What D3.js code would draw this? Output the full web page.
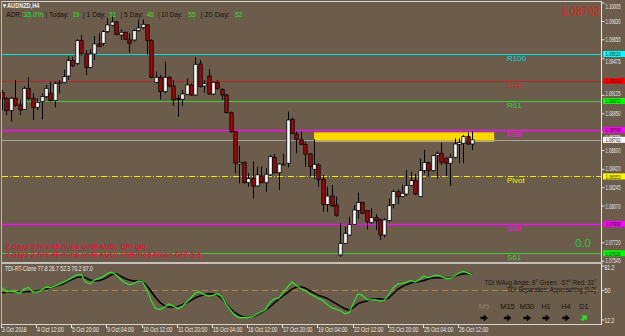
<!DOCTYPE html>
<html>
<head>
<meta charset="utf-8">
<script src="https://cdn.jsdelivr.net/npm/d3@7"></script>
<style>
  body { margin: 0; background: #6b5c4c; }
  svg { display: block; font-family: "Liberation Sans", Arial, sans-serif; }
</style>
</head>
<body>
<svg id="chart" width="625" height="336"></svg>
<script>
// ---- DATA (AUDNZD H4) ----
var openP = [1.09152,1.09098,1.08980,1.09098,1.09034,1.08993,1.09193,1.09098,1.09012,1.09066,
  1.09113,1.09145,1.09075,1.09247,1.09247,1.09310,1.09457,1.09431,1.09647,1.09520,
  1.09393,1.09520,1.09616,1.09622,1.09733,1.09794,1.09825,1.09701,1.09727,1.09654,
  1.09654,1.09743,1.09771,1.09797,1.09647,1.09250,1.09298,1.09161,1.09298,1.09215,
  1.09098,1.09088,1.09136,1.09225,1.09129,1.09425,1.09215,1.09310,1.09139,1.09247,
  1.09183,1.09129,1.08961,1.08780,1.08471,1.08487,1.08293,1.08333,1.08262,1.08357,
  1.08293,1.08368,1.08535,1.08388,1.08468,1.08479,1.08897,1.08757,1.08702,1.08659,
  1.08567,1.08421,1.08462,1.08325,1.08086,1.08166,1.08080,1.07604,1.07715,1.07794,
  1.07896,1.08027,1.08106,1.08027,1.07912,1.07960,1.07938,1.07794,1.07931,1.08086,
  1.08208,1.08160,1.08185,1.08268,1.08313,1.08160,1.08408,1.08484,1.08408,1.08551,
  1.08573,1.08525,1.08479,1.08535,1.08656,1.08669,1.08732,1.08662];
var highP = [1.09177,1.09107,1.09113,1.09272,1.09082,1.09209,1.09298,1.09145,1.09098,1.09145,
  1.09225,1.09256,1.09256,1.09272,1.09368,1.09495,1.09488,1.09660,1.09701,1.09558,
  1.09565,1.09692,1.09717,1.09749,1.09860,1.09876,1.09838,1.09755,1.09733,1.09717,
  1.09755,1.09844,1.09851,1.09806,1.09660,1.09352,1.09320,1.09447,1.09310,1.09272,
  1.09129,1.09177,1.09288,1.09240,1.09488,1.09463,1.09272,1.09374,1.09256,1.09272,
  1.09193,1.09136,1.08970,1.08789,1.08643,1.08494,1.08382,1.08494,1.08446,1.08446,
  1.08430,1.08557,1.08567,1.08479,1.08567,1.08970,1.08916,1.08780,1.08780,1.08684,
  1.08573,1.08707,1.08479,1.08368,1.08255,1.08271,1.08160,1.07906,1.07874,1.07969,
  1.08080,1.08198,1.08112,1.08033,1.08049,1.07992,1.07953,1.07953,1.08144,1.08224,
  1.08230,1.08271,1.08414,1.08398,1.08376,1.08525,1.08605,1.08494,1.08557,1.08589,
  1.08675,1.08541,1.08567,1.08716,1.08716,1.08748,1.08770,1.08780];
var lowP = [1.08986,1.08939,1.08875,1.09018,1.08939,1.08986,1.09082,1.08891,1.08986,1.08897,
  1.09098,1.09066,1.09012,1.09145,1.09240,1.09272,1.09399,1.09415,1.09501,1.09320,
  1.09383,1.09463,1.09590,1.09596,1.09717,1.09781,1.09701,1.09654,1.09654,1.09533,
  1.09638,1.09733,1.09755,1.09511,1.09288,1.09240,1.09088,1.09145,1.09202,1.09024,
  1.08923,1.09024,1.09129,1.09120,1.09120,1.09202,1.09152,1.09129,1.09129,1.09177,
  1.09082,1.08955,1.08770,1.08382,1.08287,1.08287,1.08255,1.08145,1.08255,1.08287,
  1.08208,1.08357,1.08382,1.08224,1.08462,1.08440,1.08757,1.08573,1.08653,1.08446,
  1.08351,1.08328,1.08255,1.08017,1.08017,1.08065,1.07969,1.07588,1.07706,1.07788,
  1.07890,1.07953,1.07995,1.07848,1.07899,1.07842,1.07747,1.07772,1.07922,1.08049,
  1.08086,1.08154,1.08166,1.08262,1.08176,1.08154,1.08382,1.08351,1.08398,1.08333,
  1.08462,1.08351,1.08262,1.08525,1.08479,1.08479,1.08653,1.08605];
var closeP = [1.09094,1.08980,1.09098,1.09031,1.08986,1.09193,1.09098,1.09008,1.09059,1.09113,
  1.09193,1.09075,1.09240,1.09250,1.09304,1.09457,1.09406,1.09647,1.09520,1.09393,
  1.09520,1.09616,1.09590,1.09733,1.09797,1.09825,1.09704,1.09727,1.09660,1.09622,
  1.09743,1.09768,1.09803,1.09647,1.09298,1.09298,1.09161,1.09298,1.09215,1.09082,
  1.09088,1.09139,1.09225,1.09129,1.09422,1.09209,1.09240,1.09139,1.09250,1.09193,
  1.09129,1.08961,1.08780,1.08479,1.08487,1.08293,1.08333,1.08262,1.08368,1.08293,
  1.08374,1.08541,1.08388,1.08471,1.08471,1.08891,1.08764,1.08702,1.08659,1.08564,
  1.08446,1.08468,1.08325,1.08086,1.08166,1.08071,1.07982,1.07715,1.07810,1.07896,
  1.08033,1.08103,1.08001,1.07922,1.07960,1.07931,1.07794,1.07938,1.08074,1.08208,
  1.08160,1.08192,1.08265,1.08313,1.08185,1.08408,1.08484,1.08408,1.08551,1.08573,
  1.08487,1.08479,1.08535,1.08662,1.08675,1.08732,1.08662,1.08702];

// TDI: green = RSI price line, black = trade signal line
var tdiGreen = [53.4,48.3,49.2,48.3,46.2,51.7,53.8,47.9,47.9,50.4,
  54.3,53.4,55.5,58.1,60.7,63.2,66.6,69.6,70.4,60.7,
  58.5,63.2,65.3,67.5,71.7,73.4,69.6,64.1,59.8,57.2,
  58.9,61.9,61.1,50.4,36.4,26.6,25.7,28.7,32.6,30.0,
  26.6,29.6,35.1,40.6,47.0,48.3,44.5,42.8,43.6,45.8,
  41.9,32.1,24.9,18.1,15.1,15.1,15.1,16.4,19.8,22.8,
  25.7,35.1,39.4,40.2,47.9,54.7,60.7,56.4,52.1,49.6,
  45.8,42.8,39.4,37.2,32.1,27.9,26.2,24.0,20.2,21.5,
  34.3,45.8,43.6,38.1,37.7,38.1,36.4,37.7,44.5,53.4,
  58.1,58.9,60.2,62.8,60.7,64.1,68.3,66.2,68.7,69.6,
  67.5,64.9,65.3,68.7,72.6,74.7,72.1,70.2];
var tdiBlack = [47.0,47.5,48.3,48.3,47.9,48.3,48.7,48.7,49.6,50.4,
  51.7,53.4,55.1,56.8,58.5,61.5,64.1,66.6,67.5,66.2,
  63.2,62.4,62.4,64.1,67.0,70.4,71.3,68.3,65.3,63.2,
  61.9,61.9,61.1,55.5,48.3,40.6,34.3,30.0,28.7,28.7,
  29.6,31.7,34.3,37.2,40.6,42.8,44.5,45.8,45.3,44.0,
  39.8,33.0,26.6,21.5,18.1,16.0,15.1,16.4,18.5,21.5,
  24.9,29.2,34.3,38.9,43.2,47.5,51.7,54.3,54.7,53.0,
  49.6,46.6,43.6,41.9,39.8,36.4,33.0,30.0,26.6,24.9,
  28.3,33.0,35.1,36.4,38.5,39.4,38.9,38.5,40.6,45.8,
  51.3,54.7,57.2,59.4,60.7,61.5,62.8,64.5,65.8,66.2,
  66.2,65.3,66.2,67.9,70.0,71.3,71.7,70.9];
var tdiTicks = [81.2, 50, 12.2];

// fibonacci pivot levels
var levelNames = ["R100", "R76", "R61", "R38", "Pivot", "S38", "S61"];
var levelValues = [1.09520, 1.09263, 1.09072, 1.08796, 1.08353, 1.07900, 1.07620];

// supply zone (bar from / to, price top / bottom)
var zoneBars = [71, 112];
var zonePrices = [1.08773, 1.08684];

var priceTicks = [1.10005, 1.09830, 1.09655, 1.09475, 1.09125, 1.08950, 1.08775,
  1.08600, 1.08420, 1.08245, 1.08070, 1.07720, 1.07545];

var timeLabels = ["3 Oct 2018", "4 Oct 12:00", "5 Oct 20:00", "9 Oct 04:00", "10 Oct 12:00",
  "11 Oct 20:00", "15 Oct 04:00", "16 Oct 12:00", "17 Oct 20:00", "19 Oct 04:00",
  "22 Oct 12:00", "23 Oct 20:00", "25 Oct 04:00", "26 Oct 12:00"];
var timeLabelBars = [0, 8, 16, 24, 32, 40, 48, 56, 64, 72, 80, 88, 96, 104];

var adrNames = ["ADR:", "| Today:", "| 1 Day:", "| 5 Day:", "| 10 Day:", "|   20 Day:"];
var adrValues = ["35.0%", "19", "51", "48", "55", "52"];

var newsLines = ["2 days 2 hrs 40 mins until AUD: CPI q/q",
  "2 days 2 hrs 40 mins until AUD: Trimmed Mean CPI q/q"];

var tfNames = ["M5", "M15", "M30", "H1", "H4", "D1"];
var tfUp = [false, false, false, false, false, true];

var lastPrice = closeP[closeP.length - 1];

// ---- LAYOUT ----
var axisX = 601.5;
var bg = "#6b5c4c";
var levelColors = ["#00dede", "#d42a2a", "#3ccc3c", "#f010f0", "#f0f000", "#f010f0", "#3ccc3c"];
var boxColors = ["#00ffff", "#ff0000", "#00ff00", "#ff00ff", "#ffff00", "#ff00ff", "#00ff00"];

var xScale = d3.scaleLinear().domain([0, 136]).range([2, 2 + 136 * 4.395]);
var yScale = d3.scaleLinear().domain([1.0762, 1.0952]).range([253.3, 54]);
var tdiScale = d3.scaleLinear().domain([12.2, 81.2]).range([320, 266]);

var svg = d3.select("#chart");

// text squeezed to a given width with a horizontal scale
function fitText(g, x, y, txt, size, col, width, opts) {
  var t = g.append("text")
    .attr("font-size", size)
    .attr("fill", col)
    .attr("font-weight", opts && opts.bold ? "bold" : null)
    .text(txt);
  var natural = t.node().getComputedTextLength();
  var k = width / natural;
  t.attr("transform", "translate(" + x + "," + y + ") scale(" + k + ",1)");
  return t;
}

svg.append("rect").attr("width", 625).attr("height", 336).attr("fill", bg);

var bars = d3.range(openP.length);

// supply zone (behind candles)
svg.append("rect")
  .attr("x", xScale(zoneBars[0]))
  .attr("y", yScale(zonePrices[0]))
  .attr("width", xScale(zoneBars[1]) - xScale(zoneBars[0]))
  .attr("height", yScale(zonePrices[1]) - yScale(zonePrices[0]))
  .attr("fill", "#ffd800");

// level lines
levelValues.forEach(function (v, i) {
  var y = Math.round(yScale(v)) + 0.5;
  svg.append("line")
    .attr("x1", 2).attr("x2", axisX).attr("y1", y).attr("y2", y)
    .attr("stroke", levelNames[i] == "R76" ? "#b02a2a" : levelColors[i])
    .attr("stroke-width", levelNames[i] == "R38" || levelNames[i] == "S38" ? 1.4 : 1)
    .attr("stroke-dasharray", levelNames[i] == "Pivot" ? "6,2,1,2" : null);
});

// current price line
var yLast = Math.round(yScale(lastPrice)) + 0.5;
svg.append("line")
  .attr("x1", 2).attr("x2", axisX).attr("y1", yLast).attr("y2", yLast)
  .attr("stroke", "#a8a49e").attr("stroke-width", 1);

// candles
var candles = svg.append("g");
candles.selectAll("line")
  .data(bars).enter().append("line")
  .attr("x1", (i) => Math.round(xScale(i)) + 0.5)
  .attr("x2", (i) => Math.round(xScale(i)) + 0.5)
  .attr("y1", (i) => yScale(highP[i]))
  .attr("y2", (i) => yScale(lowP[i]))
  .attr("stroke", "#000").attr("stroke-width", 1);

candles.selectAll("rect")
  .data(bars).enter().append("rect")
  .attr("x", (i) => Math.round(xScale(i)) - 1.2)
  .attr("width", 3.4)
  .attr("y", (i) => yScale(Math.max(openP[i], closeP[i])))
  .attr("height", (i) => Math.max(1, Math.abs(yScale(openP[i]) - yScale(closeP[i]))))
  .attr("fill", (i) => closeP[i] >= openP[i] ? "#ffffff" : "#9c0a0a")
  .attr("stroke", "#000").attr("stroke-width", 0.8);

// level labels
levelNames.forEach(function (n, i) {
  svg.append("text")
    .attr("x", 507).attr("y", yScale(levelValues[i]) + 7)
    .attr("font-size", 8)
    .attr("fill", levelColors[i])
    .text(n);
});

// top-left texts
fitText(svg, 3, 8, "\u25BE AUDNZD,H4", 6.5, "#f0f0f0", 37, { bold: true });

var adrNameX = [6, 45.5, 83, 120.5, 158, 200.5];
var adrNameW = [16, 23.5, 23, 23, 24.5, 29.5];
var adrValX = [23.3, 72.7, 109.3, 146.7, 188.3, 235];
var adrValW = [20, 6.6, 6.7, 7.3, 7.4, 7.3];
adrNames.forEach(function (n, i) {
  fitText(svg, adrNameX[i], 17, n, 8, "#141414", adrNameW[i]);
  fitText(svg, adrValX[i], 17, adrValues[i], 8, "#22e622", adrValW[i]);
});

// big last price (top right)
fitText(svg, 561, 14.5, lastPrice.toFixed(5), 11, "#f01414", 39);

// news
var newsW = [141, 196];
newsLines.forEach(function (t, i) {
  fitText(svg, 5.5, 248.5 + i * 8.6, t, 8, "#e0143c", newsW[i], { bold: true });
});

svg.append("text").attr("x", 575).attr("y", 247).attr("font-size", 11.5)
  .attr("fill", "#30c830").text("0.0");

// frame
svg.append("line").attr("x1", 1).attr("x2", axisX).attr("y1", 1.5).attr("y2", 1.5)
  .attr("stroke", "#d8d4cc");
svg.append("line").attr("x1", 1.5).attr("x2", 1.5).attr("y1", 1).attr("y2", 325)
  .attr("stroke", "#bdb7ad");
svg.append("line").attr("x1", axisX).attr("x2", axisX).attr("y1", 1).attr("y2", 325)
  .attr("stroke", "#ece8e2");

// price scale: plain ticks are pushed clear of the coloured level boxes
var boxVals = levelValues.concat([lastPrice]);
var boxCols = boxColors.concat(["#ffffff"]);
var boxH = 6;
var pAxis = svg.append("g");
priceTicks.forEach(function (v) {
  var y = yScale(v);
  pAxis.append("line").attr("x1", axisX).attr("x2", axisX + 3).attr("y1", y).attr("y2", y)
    .attr("stroke", "#e8e4de");
  var ly = Math.min(Math.max(y, 6), 258);
  var above = boxVals.map(yScale).filter((b) => b <= ly && ly - b < 7.5);
  var below = boxVals.map(yScale).filter((b) => b > ly && b - ly < 7.5);
  var size = 7;
  if (above.length && below.length) {
    // squeezed between two boxes
    ly = (d3.max(above) + d3.min(below)) / 2 - 0.6;
    size = 4.8;
  } else if (above.length) {
    ly = d3.max(above) + 7.5;
  } else if (below.length) {
    ly = d3.min(below) - 7.5;
  }
  fitText(pAxis, 605.5, ly + size * 0.36, v.toFixed(5), size, "#eeeae4", 15);
});

boxVals.forEach(function (v, i) {
  var y = yScale(v);
  pAxis.append("rect").attr("x", 603).attr("y", y - boxH / 2).attr("width", 22).attr("height", boxH)
    .attr("fill", boxCols[i]);
  fitText(pAxis, 605.5, y + 2.2, v.toFixed(5), 6.2, "#1a1a1a", 15);
});

// ---- INDICATOR PANEL ----
svg.append("rect").attr("x", 1).attr("y", 262).attr("width", axisX).attr("height", 2)
  .attr("fill", "#c4bfb7");
svg.append("line").attr("x1", 1).attr("x2", axisX).attr("y1", 324.5).attr("y2", 324.5)
  .attr("stroke", "#d8d4cc");

svg.append("line")
  .attr("x1", 2).attr("x2", axisX)
  .attr("y1", tdiScale(50)).attr("y2", tdiScale(50))
  .attr("stroke", "#b88a3c").attr("stroke-dasharray", "6,4");

var tdiLine = (arr) => d3.line()
  .x((i) => xScale(i))
  .y((i) => tdiScale(arr[i]))(bars);

svg.append("path").attr("d", tdiLine(tdiBlack))
  .attr("fill", "none").attr("stroke", "#000").attr("stroke-width", 1.5);
svg.append("path").attr("d", tdiLine(tdiGreen))
  .attr("fill", "none").attr("stroke", "#2ee02e").attr("stroke-width", 1.3);

fitText(svg, 5, 271, "TDI-RT-Clone 77.8 26.7 52.3 70.2 67.0", 6.5, "#f0ece6", 88);

var tdiLabelW = [10, 6, 10];
tdiTicks.forEach(function (v, i) {
  svg.append("line").attr("x1", axisX).attr("x2", axisX + 3)
    .attr("y1", tdiScale(v)).attr("y2", tdiScale(v)).attr("stroke", "#e8e4de");
  var ly = Math.max(tdiScale(v), 267.5);
  fitText(svg, 604.5, ly + 2.5, String(v), 7, "#eeeae4", tdiLabelW[i]);
});

fitText(svg, 484.5, 284.5, "TDI WAvg Angle: 8\u00B0  Green: -57\u00B0  Red: 33\u00B0", 7, "#161616", 112);
fitText(svg, 507, 292.3, "TDI Separation: Approaching [0.2]", 7, "#161616", 89);

// timeframe arrows
var tfX = [484, 507.5, 527, 546, 565.8, 584];
tfNames.forEach(function (n, i) {
  svg.append("text").attr("x", tfX[i]).attr("y", 308.5).attr("font-size", 7.5)
    .attr("text-anchor", "middle")
    .attr("fill", i == 0 ? "#8c7c6c" : "#141414").text(n);
  svg.append("path")
    .attr("d", "M-3.2,-1 L0,-1 L0,-3 L3.6,0 L0,3 L0,1 L-3.2,1 Z")
    .attr("transform", "translate(" + tfX[i] + ",318)" + (tfUp[i] ? " rotate(-45)" : ""))
    .attr("fill", tfUp[i] ? "#22e622" : "#0a0a0a")
    .attr("stroke", tfUp[i] ? "#22e622" : "#0a0a0a").attr("stroke-width", 0.6);
});

// time axis
timeLabels.forEach(function (t, i) {
  var x = Math.round(xScale(timeLabelBars[i])) - 0.5;
  svg.append("line").attr("x1", x).attr("x2", x).attr("y1", 325).attr("y2", 328)
    .attr("stroke", "#e8e4de");
  fitText(svg, x + 0.5, 332, t, 6.5, "#eeeae4", 2.45 * t.length);
});
</script>
</body>
</html>
